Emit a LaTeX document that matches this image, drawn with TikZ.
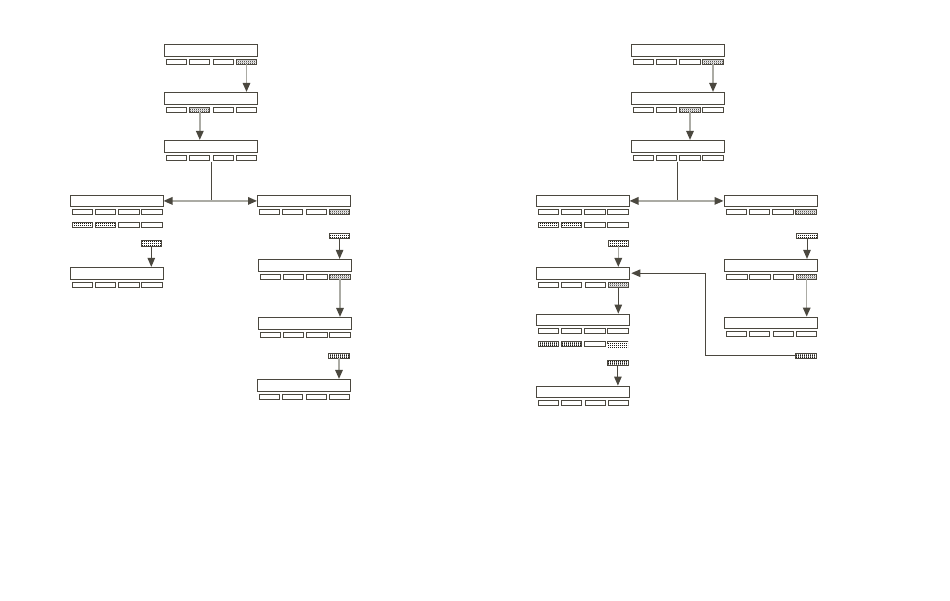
\documentclass[tikz,border=0pt]{standalone}
\usetikzlibrary{arrows.meta,patterns}
\definecolor{dk}{HTML}{4B483F}
\definecolor{pk}{HTML}{1E1C18}
\definecolor{lt}{HTML}{ABABA4}
\pgfdeclarepatternformonly{finecheck}{\pgfpointorigin}{\pgfqpoint{2pt}{2pt}}{\pgfqpoint{2pt}{2pt}}{%
  \pgfpathrectangle{\pgfpointorigin}{\pgfqpoint{1pt}{1pt}}%
  \pgfpathrectangle{\pgfqpoint{1pt}{1pt}}{\pgfqpoint{1pt}{1pt}}%
  \pgfusepath{fill}}
\pgfdeclarepatternformonly{finedots}{\pgfpointorigin}{\pgfqpoint{2pt}{2pt}}{\pgfqpoint{2pt}{2pt}}{%
  \pgfpathrectangle{\pgfpointorigin}{\pgfqpoint{1.1pt}{1.1pt}}%
  \pgfusepath{fill}}
\pgfdeclarepatternformonly{finevlines}{\pgfpointorigin}{\pgfqpoint{2pt}{2pt}}{\pgfqpoint{2pt}{2pt}}{%
  \pgfpathrectangle{\pgfpointorigin}{\pgfqpoint{1.2pt}{2pt}}%
  \pgfusepath{fill}}
\tikzset{
  bigbox/.style={draw=dk, line width=0.9pt, minimum width=93pt, minimum height=11.6pt, inner sep=0pt, outer sep=0pt},
  slot/.style={draw=dk, line width=0.9pt, minimum width=20.2pt, minimum height=5.2pt, inner sep=0pt, outer sep=0pt},
  hatch/.style={pattern=finecheck, pattern color=pk},
  dotf/.style={pattern=finedots, pattern color=pk},
  vlin/.style={pattern=finevlines, pattern color=pk},
  odd/.style={draw=none, minimum height=7.4pt, pattern=finedots, pattern color=pk},
  larr/.style={draw=lt, line width=1.5pt, -{Triangle[length=9pt,width=7.5pt,color=dk]}, shorten >=0.5pt},
  darr/.style={draw=dk, line width=1pt, -{Triangle[length=9pt,width=7.5pt,color=dk]}, shorten >=0.5pt},
  dline/.style={draw=dk, line width=1pt}
}
\newcommand\rec[7]{%
  \node[bigbox] (#1) at ({#2+46.5},{#3+5.9}) {};
  \node[slot,#4] (#1-1) at ({#2+12.3},{#3+17.3}) {};
  \node[slot,#5] (#1-2) at ({#2+35.3},{#3+17.3}) {};
  \node[slot,#6] (#1-3) at ({#2+59},{#3+17.3}) {};
  \node[slot,#7] (#1-4) at ({#2+82},{#3+17.3}) {};}
\newcommand\rowtwo[7]{%
  \node[slot,#4] (#1-5) at ({#2+12.3},{#3+29.6}) {};
  \node[slot,#5] (#1-6) at ({#2+35.3},{#3+29.6}) {};
  \node[slot,#6] (#1-7) at ({#2+59},{#3+29.6}) {};
  \node[slot,#7] (#1-8) at ({#2+82},{#3+29.6}) {};}
\begin{document}
\begin{tikzpicture}[x=1pt,y=-1pt]
\useasboundingbox (0,0) rectangle (950,600);
% ---------- left diagram ----------
\rec{A1}{164.5}{44.3}{}{}{}{hatch}
\rec{A2}{164.5}{92.3}{}{hatch}{}{}
\rec{A3}{164.5}{140.3}{}{}{}{}
\rec{AL1}{70}{195}{}{}{}{}
\rowtwo{AL1}{70}{195}{dotf}{dotf}{}{}
\node[slot,dotf] (ALx) at (151.3,243.5) {};
\rec{AL2}{70}{267.3}{}{}{}{}
\rec{AR1}{257.5}{195}{}{}{}{hatch}
\node[slot,dotf] (ARx) at (339.6,236) {};
\rec{AR2}{258}{259.3}{}{}{}{hatch}
\rec{AR3}{258}{317.3}{}{}{}{}
\node[slot,vlin] (ARy) at (339,355.6) {};
\rec{AR4}{257.5}{379.3}{}{}{}{}
\draw[larr] (A1-4.south) -- (A1-4.south |- A2.north);
\draw[larr] (A2-2.south) -- (A2-2.south |- A3.north);
\coordinate (fa0) at ([yshift=-2pt]A3.south |- A3-2.south);
\coordinate (fa) at (fa0 |- AL1.east);
\draw[dline] (fa0) -- (fa);
\draw[larr] (fa) -- (AL1.east);
\draw[larr] (fa) -- (AR1.west);
\draw[darr] (ALx.south) -- (ALx.south |- AL2.north);
\draw[darr] (ARx.south) -- (ARx.south |- AR2.north);
\draw[larr] (AR2-4.south) -- (AR2-4.south |- AR3.north);
\draw[larr] (ARy.south) -- (ARy.south |- AR4.north);
% ---------- right diagram ----------
\rec{B1}{631}{44.3}{}{}{}{hatch}
\rec{B2}{631}{92.3}{}{}{hatch}{}
\rec{B3}{631}{140.3}{}{}{}{}
\rec{BL1}{536}{195}{}{}{}{}
\rowtwo{BL1}{536}{195}{dotf}{dotf}{}{}
\node[slot,dotf] (BLx) at (618.3,243.5) {};
\rec{BL2}{536.3}{267.3}{}{}{}{hatch}
\rec{BL3}{536}{314}{}{}{}{}
\node[slot,vlin] (BL3-5) at (548.3,343.8) {};
\node[slot,vlin] (BL3-6) at (571.3,343.8) {};
\node[slot] (BL3-7) at (595,343.8) {};
\node[slot,odd] (BL3-8) at (618,344.8) {};
\draw[dline] (BL3-8.north west) -- (BL3-8.north east);
\draw[dline] (BL3-8.north west) -- ([yshift=-3pt]BL3-8.north west);
\node[slot,vlin] (BLy) at (617.9,363.2) {};
\rec{BL4}{536.3}{386}{}{}{}{}
\rec{BR1}{724}{195}{}{}{}{hatch}
\node[slot,dotf] (BRx) at (807,235.7) {};
\rec{BR2}{724.7}{259.3}{}{}{}{hatch}
\rec{BR3}{724.5}{317}{}{}{}{}
\node[slot,vlin] (BRy) at (806,355.6) {};
\coordinate (bturn) at (705.3,300);
\draw[larr] (B1-4.south) -- (B1-4.south |- B2.north);
\draw[larr] (B2-3.south) -- (B2-3.south |- B3.north);
\coordinate (fb0) at ([yshift=-2pt]B3.south |- B3-2.south);
\coordinate (fb) at (fb0 |- BL1.east);
\draw[dline] (fb0) -- (fb);
\draw[larr] (fb) -- (BL1.east);
\draw[larr] (fb) -- (BR1.west);
\draw[larr] (BLx.south) -- (BLx.south |- BL2.north);
\draw[darr] (BL2-4.south) -- (BL2-4.south |- BL3.north);
\draw[darr] (BLy.south) -- (BLy.south |- BL4.north);
\draw[darr] (BRx.south) -- (BRx.south |- BR2.north);
\draw[larr] (BR2-4.south) -- (BR2-4.south |- BR3.north);
\draw[darr, shorten >=2pt] (BRy.west) -| (bturn |- BL2.east) -- (BL2.east);
\end{tikzpicture}
\end{document}
